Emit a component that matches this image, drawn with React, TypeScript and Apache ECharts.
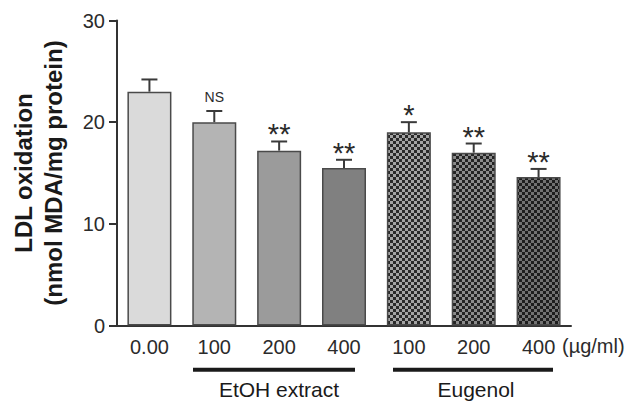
import React, { useEffect, useRef } from 'react';
import * as echarts from 'echarts';

const categories = ['0.00', '100', '200', '400', '100', '200', '400'];
const means = [23.0, 20.0, 17.2, 15.5, 19.0, 17.0, 14.6];
const errors = [1.2, 1.1, 0.9, 0.8, 1.0, 0.9, 0.8];
const marks = ['', 'NS', '**', '**', '*', '**', '**'];
const yTicks = [0, 10, 20, 30];
const groupLabels = ['EtOH extract', 'Eugenol'];
const unitLabel = '(µg/ml)';
const yTitle = ['LDL oxidation', '(nmol MDA/mg protein)'];

const FONT = '"Liberation Sans", Arial, sans-serif';

function checker(light: string, dark: string, cell: number) {
  const c = document.createElement('canvas');
  c.width = cell * 2;
  c.height = cell * 2;
  const ctx = c.getContext('2d')!;
  ctx.fillStyle = light;
  ctx.fillRect(0, 0, cell * 2, cell * 2);
  ctx.fillStyle = dark;
  ctx.fillRect(0, 0, cell, cell);
  ctx.fillRect(cell, cell, cell, cell);
  return { image: c, repeat: 'repeat' } as any;
}

export default function App() {
  const ref = useRef<HTMLDivElement>(null);
  useEffect(() => {
    document.body.style.margin = '0';
    const chart = echarts.init(ref.current!, null, { renderer: 'svg' });
    const fills: any[] = [
      '#dadada',
      '#b4b4b4',
      '#9b9b9b',
      '#808080',
      checker('#a4a4a4', '#2a2a2a', 3),
      checker('#8c8c8c', '#242424', 3),
      checker('#727272', '#1e1e1e', 3),
    ];
    const barData = means.map((v, i) => ({
      value: v,
      itemStyle: { color: fills[i], borderColor: '#4a4a4a', borderWidth: 1.5 },
    }));
    const errData = means.map((v, i) => [i, v, errors[i]]);

    chart.setOption({
      animation: false,
      backgroundColor: '#ffffff',
      grid: { left: 111, right: 68, top: 20.5, bottom: 76.5, containLabel: false },
      xAxis: {
        type: 'category',
        data: categories,
        axisLine: { lineStyle: { color: '#333', width: 2 } },
        axisTick: { show: false },
        axisLabel: { fontSize: 20, color: '#2b2b2b', fontFamily: FONT, margin: 11 },
      },
      yAxis: {
        type: 'value',
        min: yTicks[0],
        max: yTicks[yTicks.length - 1],
        interval: 10,
        splitLine: { show: false },
        axisLine: { show: true, lineStyle: { color: '#333', width: 2 } },
        axisTick: { show: true, length: 8, lineStyle: { color: '#333', width: 2 } },
        axisLabel: { fontSize: 20, color: '#2b2b2b', fontFamily: FONT, margin: 12 },
        name: yTitle.join('\n'),
        nameLocation: 'middle',
        nameGap: 49,
        nameTextStyle: {
          fontSize: 24,
          fontWeight: 'bold',
          color: '#1a1a1a',
          fontFamily: FONT,
          lineHeight: 30,
        },
      },
      series: [
        {
          type: 'bar',
          data: barData,
          barWidth: 44,
          z: 2,
        },
        {
          type: 'custom',
          data: errData,
          z: 3,
          renderItem: (params: any, api: any) => {
            const idx = api.value(0);
            const v = api.value(1);
            const e = api.value(2);
            const base = api.coord([idx, v]);
            const hi = api.coord([idx, v + e]);
            const mark = marks[params.dataIndex];
            const isStar = mark.indexOf('*') >= 0;
            const children: any[] = [
              {
                type: 'line',
                shape: { x1: base[0], y1: base[1], x2: hi[0], y2: hi[1] },
                style: { stroke: '#3a3a3a', lineWidth: 2 },
              },
              {
                type: 'line',
                shape: { x1: hi[0] - 8, y1: hi[1], x2: hi[0] + 8, y2: hi[1] },
                style: { stroke: '#3a3a3a', lineWidth: 2 },
              },
            ];
            if (mark) {
              children.push({
                type: 'text',
                x: hi[0],
                y: isStar ? hi[1] - 7 : hi[1] - 14,
                style: {
                  text: mark,
                  fontSize: isStar ? 29 : 14,
                  fontFamily: FONT,
                  fill: '#2b2b2b',
                  align: 'center',
                  verticalAlign: 'middle',
                },
              });
            }
            return { type: 'group', children };
          },
        },
      ],
      graphic: [
        {
          type: 'text',
          left: 562,
          top: 336,
          style: { text: unitLabel, fontSize: 20, fontFamily: FONT, fill: '#2b2b2b' },
        },
        {
          type: 'line',
          shape: { x1: 193, y1: 369.7, x2: 355, y2: 369.7 },
          style: { stroke: '#1a1a1a', lineWidth: 4 },
        },
        {
          type: 'line',
          shape: { x1: 393, y1: 369.7, x2: 553, y2: 369.7 },
          style: { stroke: '#1a1a1a', lineWidth: 4 },
        },
        {
          type: 'text',
          x: 279,
          y: 389,
          style: {
            text: groupLabels[0],
            fontSize: 21,
            fontFamily: FONT,
            fill: '#1a1a1a',
            align: 'center',
            verticalAlign: 'middle',
          },
        },
        {
          type: 'text',
          x: 476,
          y: 389,
          style: {
            text: groupLabels[1],
            fontSize: 21,
            fontFamily: FONT,
            fill: '#1a1a1a',
            align: 'center',
            verticalAlign: 'middle',
          },
        },
      ],
    });
    return () => chart.dispose();
  }, []);
  return <div ref={ref} style={{ width: 639, height: 402 }} />;
}
